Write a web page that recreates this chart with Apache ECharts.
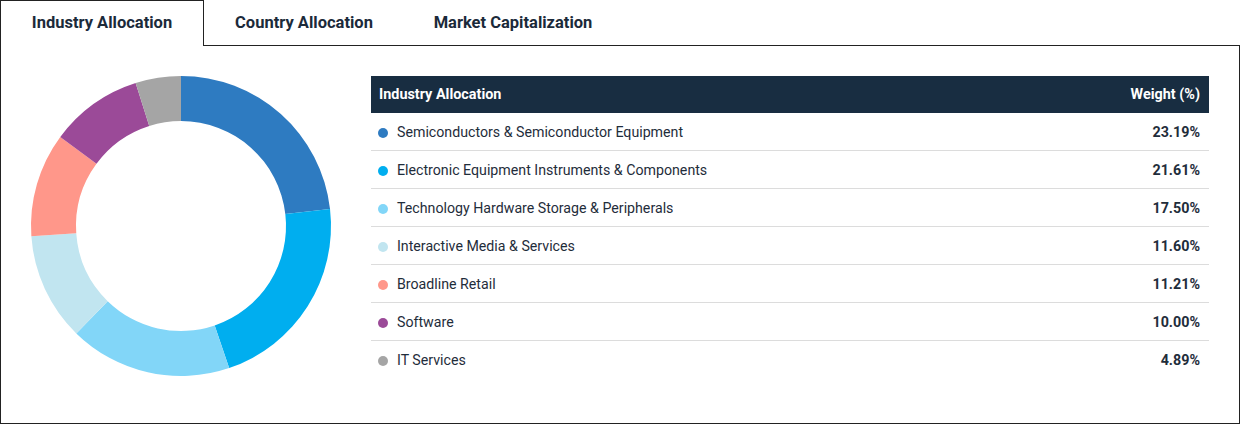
<!DOCTYPE html>
<html>
<head>
<meta charset="utf-8">
<script src="https://cdn.jsdelivr.net/npm/echarts@6/dist/echarts.min.js"></script>
<style>
  html, body { margin: 0; padding: 0; background: #fff; }
  body { width: 1240px; height: 424px; position: relative; overflow: hidden;
         font-family: Roboto, "Noto Sans", Arial, sans-serif; color: #1b2a3a; }
  .box { position: absolute; left: 0; top: 45px; width: 1240px; height: 379px;
         border: 1px solid #222; box-sizing: border-box; }
  .tab { position: absolute; top: 0; height: 45px; line-height: 45px; font-size: 16.5px;
         font-weight: 700; color: #1b2a3a; text-align: center; box-sizing: border-box; }
  .tab.active { left: 0; width: 204px; height: 46px; background: #fff;
                border: 1px solid #222; border-bottom: none; z-index: 2; line-height: 44px; }
  #chart { position: absolute; left: 1px; top: 46px; width: 360px; height: 360px; }
  #tbl { position: absolute; left: 371px; top: 76px; width: 838px; border-collapse: collapse;
         font-size: 14px; }
  #tbl th { background: #182d41; color: #fff; font-weight: 700; height: 37px; padding: 0 9px 0 8px;
            text-align: left; font-size: 14.4px; }
  #tbl th.w { text-align: right; }
  #tbl td { height: 37px; border-bottom: 1px solid #dcdcdc; padding: 0; color: #1f2d3b; }
  #tbl tr:last-child td { border-bottom: none; }
  #tbl td.n { padding-left: 7px; font-size: 14.2px; }
  #tbl td.v { text-align: right; font-weight: 700; padding-right: 9px; font-size: 14.3px; }
  .dot { display: inline-block; width: 10px; height: 10px; border-radius: 50%;
         margin-right: 9px; vertical-align: -1px; }
</style>
</head>
<body>
<div class="box"></div>
<div class="tab active">Industry Allocation</div>
<div class="tab" style="left:204px;width:200px;">Country Allocation</div>
<div class="tab" style="left:403px;width:220px;">Market Capitalization</div>
<div id="chart"></div>
<table id="tbl"></table>
<script>
var industries = [
  'Semiconductors & Semiconductor Equipment',
  'Electronic Equipment Instruments & Components',
  'Technology Hardware Storage & Peripherals',
  'Interactive Media & Services',
  'Broadline Retail',
  'Software',
  'IT Services'
];
var weights = [23.19, 21.61, 17.50, 11.60, 11.21, 10.00, 4.89];
var colors = ['#2e7bc1', '#00aeef', '#82d6f8', '#c1e5f0', '#ff978a', '#9b4a98', '#a5a5a5'];
var headers = ['Industry Allocation', 'Weight (%)'];

// table
var html = '<tr><th>' + headers[0] + '</th><th class="w">' + headers[1] + '</th></tr>';
for (var i = 0; i < industries.length; i++) {
  html += '<tr><td class="n"><span class="dot" style="background:' + colors[i] + '"></span>' +
    industries[i].replace('&', '&amp;') + '</td><td class="v">' + weights[i].toFixed(2) + '%</td></tr>';
}
document.getElementById('tbl').innerHTML = html;

// donut
var chart = echarts.init(document.getElementById('chart'), null, { renderer: 'canvas' });
chart.setOption({
  animation: false,
  color: colors,
  series: [{
    type: 'pie',
    center: [180, 180],
    radius: [105, 150],
    startAngle: 90,
    clockwise: true,
    label: { show: false },
    labelLine: { show: false },
    emphasis: { disabled: true },
    itemStyle: { borderWidth: 0 },
    data: industries.map(function (n, i) { return { name: n, value: weights[i] }; })
  }]
});
</script>
</body>
</html>
